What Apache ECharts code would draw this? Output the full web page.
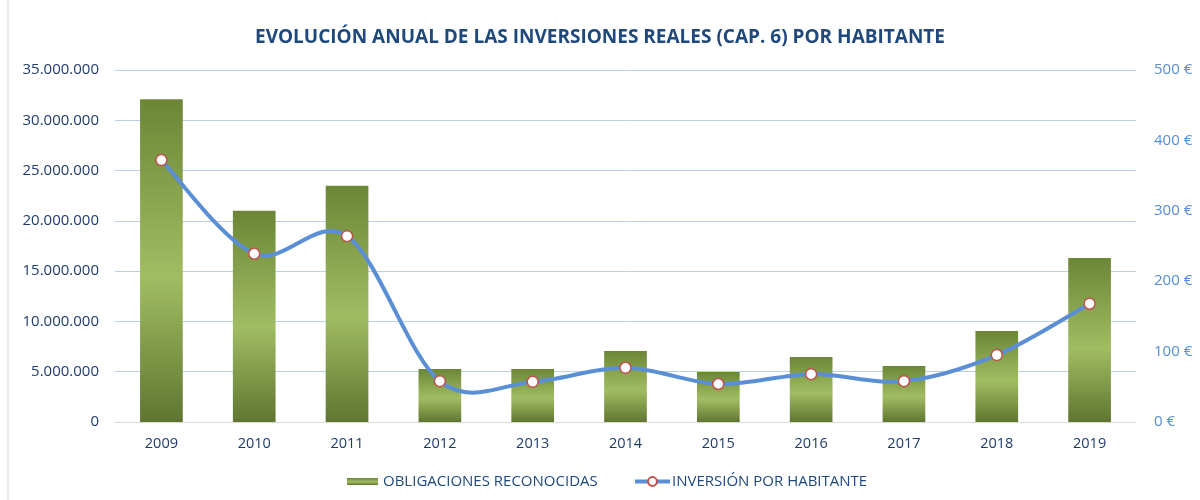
<!DOCTYPE html>
<html>
<head>
<meta charset="utf-8">
<script src="https://cdn.jsdelivr.net/npm/echarts@6/dist/echarts.min.js"></script>
<style>
  html, body { margin: 0; padding: 0; background: #fff; }
  #chart { width: 1200px; height: 500px; }
</style>
</head>
<body>
<div id="chart"></div>
<script>
// años
const years = ["2009", "2010", "2011", "2012", "2013", "2014", "2015", "2016", "2017", "2018", "2019"];
// obligaciones reconocidas (€)
const obligaciones = [32100000, 21000000, 23500000, 5270000, 5270000, 7060000, 4970000, 6460000, 5570000, 9050000, 16300000];
// inversión por habitante (€)
const porHabitante = [372, 239, 264, 58, 57, 77, 54, 68, 58, 95, 168];

const chart = echarts.init(document.getElementById("chart"));

const barGradient = new echarts.graphic.LinearGradient(0, 0, 0, 1, [
  { offset: 0, color: "#6b8636" },
  { offset: 0.55, color: "#a1bd62" },
  { offset: 1, color: "#5f7631" }
]);

const fmtMiles = v => String(v).replace(/\B(?=(\d{3})+(?!\d))/g, ".");

// curva suavizada tipo Excel (Catmull-Rom -> Bézier)
function renderCurve(params, api) {
  if (params.dataIndex !== 0) return null;
  const pts = porHabitante.map((v, i) => api.coord([i, v]));
  let d = "M" + pts[0][0] + " " + pts[0][1];
  for (let i = 0; i < pts.length - 1; i++) {
    const p0 = pts[Math.max(i - 1, 0)];
    const p1 = pts[i];
    const p2 = pts[i + 1];
    const p3 = pts[Math.min(i + 2, pts.length - 1)];
    const c1 = [p1[0] + (p2[0] - p0[0]) / 6, p1[1] + (p2[1] - p0[1]) / 6];
    const c2 = [p2[0] - (p3[0] - p1[0]) / 6, p2[1] - (p3[1] - p1[1]) / 6];
    d += " C" + c1[0] + " " + c1[1] + " " + c2[0] + " " + c2[1] + " " + p2[0] + " " + p2[1];
  }
  return {
    type: "path",
    shape: { pathData: d },
    style: { fill: null, stroke: "#5a8fd6", lineWidth: 4, lineCap: "round", lineJoin: "round" }
  };
}

chart.setOption({
  animation: false,
  textStyle: { fontFamily: "Open Sans" },
  title: {
    text: "EVOLUCIÓN ANUAL DE LAS INVERSIONES REALES (CAP. 6) POR HABITANTE",
    left: "center",
    top: 23,
    textStyle: { fontSize: 19, fontWeight: "bold", color: "#1f497d", fontFamily: "Open Sans" }
  },
  graphic: [
    { type: "line", shape: { x1: 8, y1: 0, x2: 8, y2: 500 }, style: { stroke: "#d9d9d9", lineWidth: 1 } }
  ],
  legend: [
    {
      data: [{ name: "OBLIGACIONES RECONOCIDAS", icon: "rect" }],
      left: 347, top: 474, padding: 0,
      itemWidth: 31, itemHeight: 7,
      textStyle: { color: "#1f497d", fontSize: 15 }
    },
    {
      data: ["INVERSIÓN POR HABITANTE"],
      left: 633, top: 474, padding: 0,
      itemWidth: 35, itemHeight: 11,
      lineStyle: { opacity: 1, width: 4, color: "#5a8fd6" },
      textStyle: { color: "#1f497d", fontSize: 15, padding: [0, 0, 0, -3] }
    }
  ],
  grid: { left: 115, right: 64, top: 70, bottom: 78 },
  xAxis: {
    type: "category",
    data: years,
    axisLine: { lineStyle: { color: "#d9d9d9", width: 1 } },
    axisTick: { show: false },
    axisLabel: { color: "#1f3c6e", fontSize: 14.5, margin: 14 }
  },
  yAxis: [
    {
      type: "value",
      min: 0, max: 35000000, interval: 5000000,
      axisLine: { show: false },
      axisTick: { show: false },
      splitLine: { lineStyle: { color: "#bad0ea", width: 1 } },
      axisLabel: { color: "#1f3c6e", fontSize: 15, margin: 16, formatter: fmtMiles }
    },
    {
      type: "value",
      min: 0, max: 500, interval: 100,
      axisLine: { show: false },
      axisTick: { show: false },
      splitLine: { show: false },
      axisLabel: { color: "#558ed5", fontSize: 15, margin: 18, formatter: "{value} €" }
    }
  ],
  series: [
    {
      name: "OBLIGACIONES RECONOCIDAS",
      type: "bar",
      data: obligaciones,
      barWidth: "46%",
      itemStyle: { color: barGradient }
    },
    {
      type: "custom",
      yAxisIndex: 1,
      data: porHabitante,
      renderItem: renderCurve,
      silent: true,
      z: 3
    },
    {
      name: "INVERSIÓN POR HABITANTE",
      type: "line",
      yAxisIndex: 1,
      data: porHabitante,
      symbol: "circle",
      symbolSize: 11,
      lineStyle: { color: "#5a8fd6", width: 4, opacity: 0 },
      itemStyle: { color: "#ffffff", borderColor: "#c0504d", borderWidth: 1.5 },
      z: 4
    }
  ]
});
</script>
</body>
</html>
